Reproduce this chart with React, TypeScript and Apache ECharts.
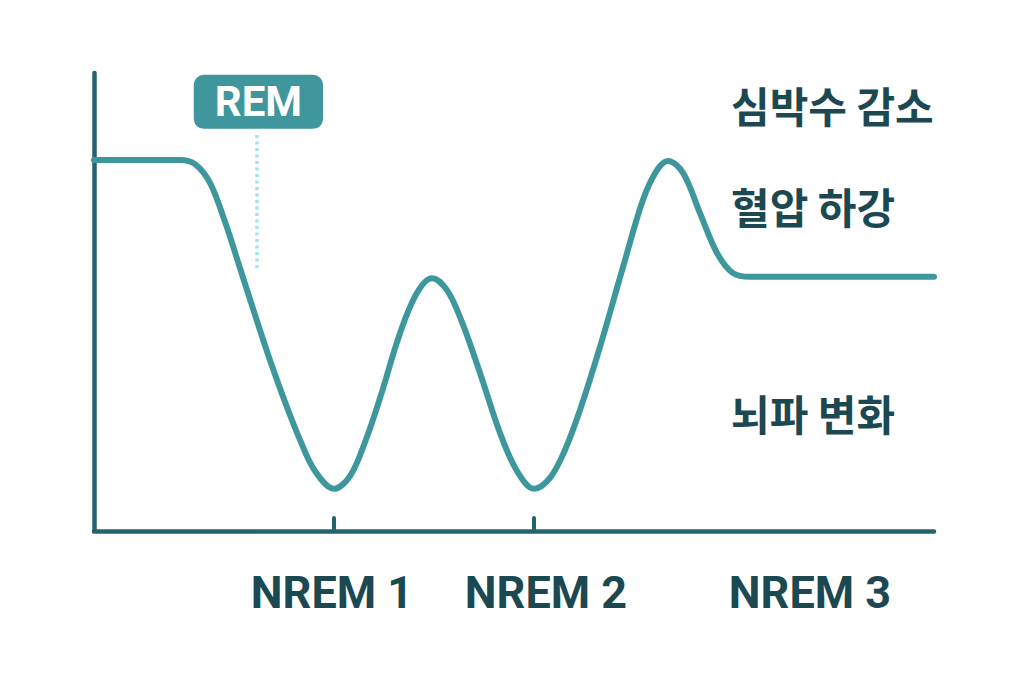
import React, { useRef, useEffect } from 'react';
import * as echarts from 'echarts';

// x: minutes into the cycle, y: relative level (0-100)
const curveX = [0, 43, 50.5, 58, 65.5, 73, 80.5, 88, 95.5, 103, 110.5, 120, 128, 135.5, 143, 153, 161.5, 169, 176.5, 184, 193, 203, 211.5, 220, 228, 235.5, 243, 253, 264.5, 274.5, 281.5, 287, 294.5, 303, 311.5, 319.5, 328, 420];
const curveY = [81, 81, 80.1, 76, 67.5, 57.4, 47.2, 37.3, 28.2, 19.9, 13.1, 9.2, 12, 19.4, 29, 43.2, 52, 55.2, 52.6, 45.6, 34.5, 21.4, 13.1, 9.2, 11.6, 17.7, 26.4, 40.2, 57.6, 72.3, 78.8, 80.8, 78.2, 69.4, 60.7, 56.3, 55.5, 55.5];

const tickAt = [120, 220];
const stageAt = [119, 226, 358];
const stageLabels = ['NREM 1', 'NREM 2', 'NREM 3'];

const remAt = [82.2, 93.7];
const remGuide = [81.5, 57.4, 87.3]; // x, y from, y to

const sideLabels = ['심박수 감소', '혈압 하강', '뇌파 변화'];
const sideLabelY = [106, 207, 414];

const CURVE = '#3f979e';
const AXIS = '#25636f';
const TEXT = '#1c4852';

const App: React.FC = () => {
  const chartRef = useRef<HTMLDivElement>(null);

  useEffect(() => {
    if (!chartRef.current) return;
    const chart = echarts.init(chartRef.current, null, { renderer: 'svg' });

    const data = curveX.map((x, i) => [x, curveY[i]]);

    chart.setOption({
      animation: false,
      backgroundColor: '#ffffff',
      grid: { left: 94, right: 90, top: 73, bottom: 152 },
      xAxis: {
        type: 'value',
        min: 0,
        max: 420,
        splitLine: { show: false },
        axisLine: { show: true, lineStyle: { color: AXIS, width: 4.5, cap: 'round' } },
        axisTick: {
          show: true,
          inside: true,
          length: 13,
          customValues: tickAt,
          lineStyle: { color: AXIS, width: 4, cap: 'round' },
        },
        axisLabel: {
          customValues: stageAt,
          margin: 39,
          formatter: (v: number) => stageLabels[stageAt.indexOf(v)] || '',
          color: TEXT,
          fontFamily: 'Roboto',
          fontWeight: 'bold',
          fontSize: 45,
          lineHeight: 45,
        },
      },
      yAxis: {
        type: 'value',
        min: 0,
        max: 100,
        splitLine: { show: false },
        axisLine: { show: true, lineStyle: { color: AXIS, width: 4.5, cap: 'round' } },
        axisTick: { show: false },
        axisLabel: { show: false },
      },
      series: [
        {
          type: 'line',
          data,
          smooth: 0.35,
          showSymbol: false,
          lineStyle: { color: CURVE, width: 6, cap: 'round', join: 'round' },
          markLine: {
            silent: true,
            symbol: 'none',
            label: { show: false },
            lineStyle: { color: '#a2e3ee', width: 3.5, type: [3, 3.5] },
            data: [
              [
                { coord: [remGuide[0], remGuide[1]] },
                { coord: [remGuide[0], remGuide[2]] },
              ],
            ],
          },
          markPoint: {
            silent: true,
            symbol: 'circle',
            symbolSize: 0,
            data: [{ coord: remAt, value: 'REM' }],
            label: {
              show: true,
              position: 'inside',
              formatter: 'REM',
              color: '#ffffff',
              fontFamily: 'Roboto',
              fontWeight: 'bold',
              fontSize: 42,
              lineHeight: 42,
              backgroundColor: '#3f969d',
              borderRadius: 10,
              padding: [6, 21],
            },
          },
        },
      ],
      graphic: sideLabels.map((t, i) => ({
        type: 'text',
        left: 731,
        top: sideLabelY[i] - 23,
        style: {
          text: t,
          fill: TEXT,
          font: 'bold 42px "Noto Sans CJK KR"',
        },
      })),
    });

    return () => {
      chart.dispose();
    };
  }, []);

  return <div ref={chartRef} style={{ width: 1024, height: 683, margin: -8 }} />;
};

export default App;
